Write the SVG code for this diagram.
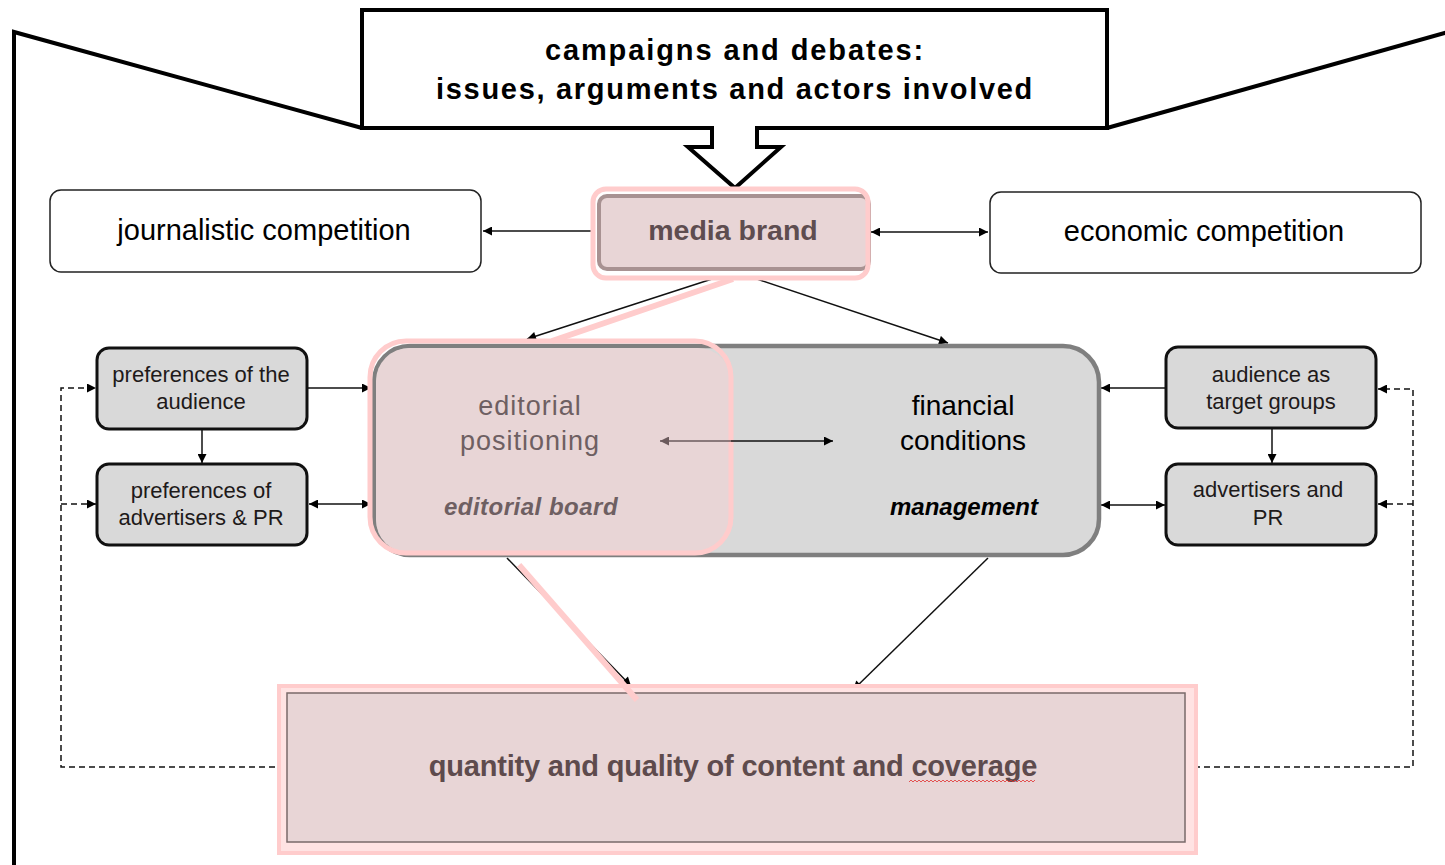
<svg xmlns="http://www.w3.org/2000/svg" width="1445" height="865" viewBox="0 0 1445 865">
  <defs>
    <style>
      .t { font-family: "Liberation Sans", Arial, sans-serif; text-anchor: middle; }
      .frame { fill: none; stroke: #000; stroke-width: 4; stroke-linejoin: miter; }
      .wbox { fill: #fff; stroke: #222; stroke-width: 1.5; }
      .gbox { fill: #d9d9d9; stroke: #111; stroke-width: 3; }
      .con { fill: none; stroke: #111; stroke-width: 1.5; }
      .dash { fill: none; stroke: #111; stroke-width: 1.5; stroke-dasharray: 6 4; }
      .hl { fill: none; stroke: #ffcccc; stroke-width: 6; stroke-linecap: butt; }
      .side { font-size: 22px; fill: #1e1a1a; }
    </style>
    <marker id="ah" viewBox="0 0 10 10" refX="10" refY="5" markerWidth="11" markerHeight="9" markerUnits="userSpaceOnUse" orient="auto-start-reverse">
      <path d="M0,0 L10,5 L0,10 z" fill="#000"/>
    </marker>
    <marker id="ahm" viewBox="0 0 10 10" refX="10" refY="5" markerWidth="11" markerHeight="9" markerUnits="userSpaceOnUse" orient="auto-start-reverse">
      <path d="M0,0 L10,5 L0,10 z" fill="#6b5a5c"/>
    </marker>
    <marker id="bar" viewBox="0 0 4 12" refX="2" refY="6" markerWidth="4" markerHeight="12" markerUnits="userSpaceOnUse" orient="auto">
      <path d="M2,0 V12" stroke="#000" stroke-width="1.5"/>
    </marker>
  </defs>

  <rect width="1445" height="865" fill="#fff"/>

  <!-- outer funnel frame -->
  <polyline class="frame" points="14,868 14,32 362,128"/>
  <polyline class="frame" points="1107,128 1448,32"/>

  <!-- campaigns box with down arrow -->
  <g id="campaigns">
    <path class="frame" style="fill:#fff" d="M362,10 H1107 V128 H757 V147 H781 L735,188 L688,147 H712 V128 H362 Z"/>
    <text class="t" x="735" y="60" font-size="29" font-weight="bold" letter-spacing="1.9" fill="#000">campaigns and debates:</text>
    <text class="t" x="735" y="99" font-size="29" font-weight="bold" letter-spacing="1.7" fill="#000">issues, arguments and actors involved</text>
  </g>

  <!-- connectors -->
  <g id="connectors">
    <line class="con" x1="592" y1="231" x2="483" y2="231" marker-start="url(#bar)" marker-end="url(#ah)"/>
    <line class="con" x1="871" y1="232" x2="988" y2="232" marker-start="url(#ah)" marker-end="url(#ah)"/>
    <line class="con" x1="712" y1="279" x2="527" y2="339" marker-end="url(#ah)"/>
    <line class="con" x1="757" y1="279" x2="948" y2="343" marker-end="url(#ah)"/>
    <line class="con" x1="307" y1="388" x2="371" y2="388" marker-end="url(#ah)"/>
    <line class="con" x1="309" y1="504" x2="371" y2="504" marker-start="url(#ah)" marker-end="url(#ah)"/>
    <line class="con" x1="202" y1="430" x2="202" y2="463" marker-end="url(#ah)"/>
    <line class="con" x1="1165" y1="388" x2="1101" y2="388" marker-end="url(#ah)"/>
    <line class="con" x1="1101" y1="505" x2="1165" y2="505" marker-start="url(#ah)" marker-end="url(#ah)"/>
    <line class="con" x1="1272" y1="429" x2="1272" y2="463" marker-end="url(#ah)"/>
    <line class="con" x1="507" y1="558" x2="631" y2="686" marker-end="url(#ah)"/>
    <line class="con" x1="988" y1="558" x2="853" y2="690" marker-end="url(#ah)"/>
    <!-- feedback loops -->
    <polyline class="dash" points="285,767 61,767 61,388 96,388" marker-end="url(#ah)"/>
    <line class="dash" x1="61" y1="504" x2="96" y2="504" marker-end="url(#ah)"/>
    <polyline class="dash" points="1184,767 1413,767 1413,389 1378,389" marker-end="url(#ah)"/>
    <line class="dash" x1="1413" y1="504" x2="1378" y2="504" marker-end="url(#ah)"/>
  </g>

  <g id="journalistic">
    <rect class="wbox" x="50" y="190" width="431" height="82" rx="11"/>
    <text class="t" x="264" y="240" font-size="29" fill="#000">journalistic competition</text>
  </g>

  <g id="economic">
    <rect class="wbox" x="990" y="192" width="431" height="81" rx="11"/>
    <text class="t" x="1204" y="241" font-size="29" fill="#000">economic competition</text>
  </g>

  <g id="media-brand">
    <rect x="599" y="196" width="270" height="73" rx="8" fill="#e8d5d6" stroke="#a89292" stroke-width="4"/>
    <rect x="593" y="189" width="275" height="89" rx="13" fill="none" stroke="#ffcccc" stroke-width="5"/>
    <text class="t" x="733" y="240" font-size="28.5" font-weight="bold" fill="#5e4d50">media brand</text>
  </g>

  <g id="financial">
    <rect x="374" y="346" width="725" height="209" rx="36" fill="#d9d9d9" stroke="#7f7f7f" stroke-width="4.5"/>
    <text class="t" x="963" y="415" font-size="28" fill="#000">financial</text>
    <text class="t" x="963" y="450" font-size="28" fill="#000">conditions</text>
    <text class="t" x="964" y="515" font-size="24" font-weight="bold" font-style="italic" fill="#000">management</text>
  </g>

  <g id="editorial">
    <rect x="376" y="348" width="355" height="205" rx="33" fill="#e8d5d6"/>
    <rect x="370" y="341" width="361" height="212" rx="36" fill="none" stroke="#ffcccc" stroke-width="5"/>
    <text class="t" x="530" y="415" font-size="27" letter-spacing="1" fill="#6e5f62">editorial</text>
    <text class="t" x="530" y="450" font-size="27" letter-spacing="1" fill="#6e5f62">positioning</text>
    <text class="t" x="531" y="515" font-size="24" font-weight="bold" font-style="italic" letter-spacing="0.5" fill="#6e5f62">editorial board</text>
  </g>

  <!-- internal link between editorial and financial -->
  <g id="inner-link">
    <line x1="660" y1="441" x2="731" y2="441" stroke="#6b5a5c" stroke-width="1.5" marker-start="url(#ahm)"/>
    <line class="con" x1="731" y1="441" x2="833" y2="441" marker-end="url(#ah)"/>
  </g>

  <g id="pref-audience">
    <rect class="gbox" x="97" y="348" width="210" height="81" rx="12"/>
    <text class="t side" x="201" y="382">preferences of the</text>
    <text class="t side" x="201" y="409">audience</text>
  </g>

  <g id="pref-advertisers">
    <rect class="gbox" x="97" y="464" width="210" height="81" rx="12"/>
    <text class="t side" x="201" y="498">preferences of</text>
    <text class="t side" x="201" y="525">advertisers &amp; PR</text>
  </g>

  <g id="audience-target">
    <rect class="gbox" x="1166" y="347" width="210" height="81" rx="12"/>
    <text class="t side" x="1271" y="382">audience as</text>
    <text class="t side" x="1271" y="409">target groups</text>
  </g>

  <g id="advertisers-pr">
    <rect class="gbox" x="1166" y="464" width="210" height="81" rx="12"/>
    <text class="t side" x="1268" y="497">advertisers and</text>
    <text class="t side" x="1268" y="525">PR</text>
  </g>

  <g id="content-coverage">
    <rect x="279" y="686" width="917" height="167" fill="#ffe3e3" stroke="#ffcccc" stroke-width="4"/>
    <rect x="287" y="693" width="898" height="149" fill="#e8d5d6" stroke="#7a6a6a" stroke-width="1.5"/>
    <text class="t" x="733" y="776" font-size="29" font-weight="bold" fill="#5e4b4d" letter-spacing="-0.2">quantity and quality of content and coverage</text>
    <path d="M909,782 l2,-2 l2,2 l2,-2 l2,2 l2,-2 l2,2 l2,-2 l2,2 l2,-2 l2,2 l2,-2 l2,2 l2,-2 l2,2 l2,-2 l2,2 l2,-2 l2,2 l2,-2 l2,2 l2,-2 l2,2 l2,-2 l2,2 l2,-2 l2,2 l2,-2 l2,2 l2,-2 l2,2 l2,-2 l2,2 l2,-2 l2,2 l2,-2 l2,2 l2,-2 l2,2 l2,-2 l2,2 l2,-2 l2,2 l2,-2 l2,2 l2,-2 l2,2 l2,-2 l2,2 l2,-2 l2,2 l2,-2 l2,2 l2,-2 l2,2 l2,-2 l2,2 l2,-2 l2,2 l2,-2 l2,2 l2,-2 l2,2 l2,-2" fill="none" stroke="#e03030" stroke-width="0.8"/>
  </g>

  <!-- highlighted path through the model -->
  <g id="highlight">
    <line class="hl" x1="733" y1="279" x2="552" y2="341"/>
    <line class="hl" x1="519" y1="565" x2="637" y2="700"/>
  </g>
</svg>
